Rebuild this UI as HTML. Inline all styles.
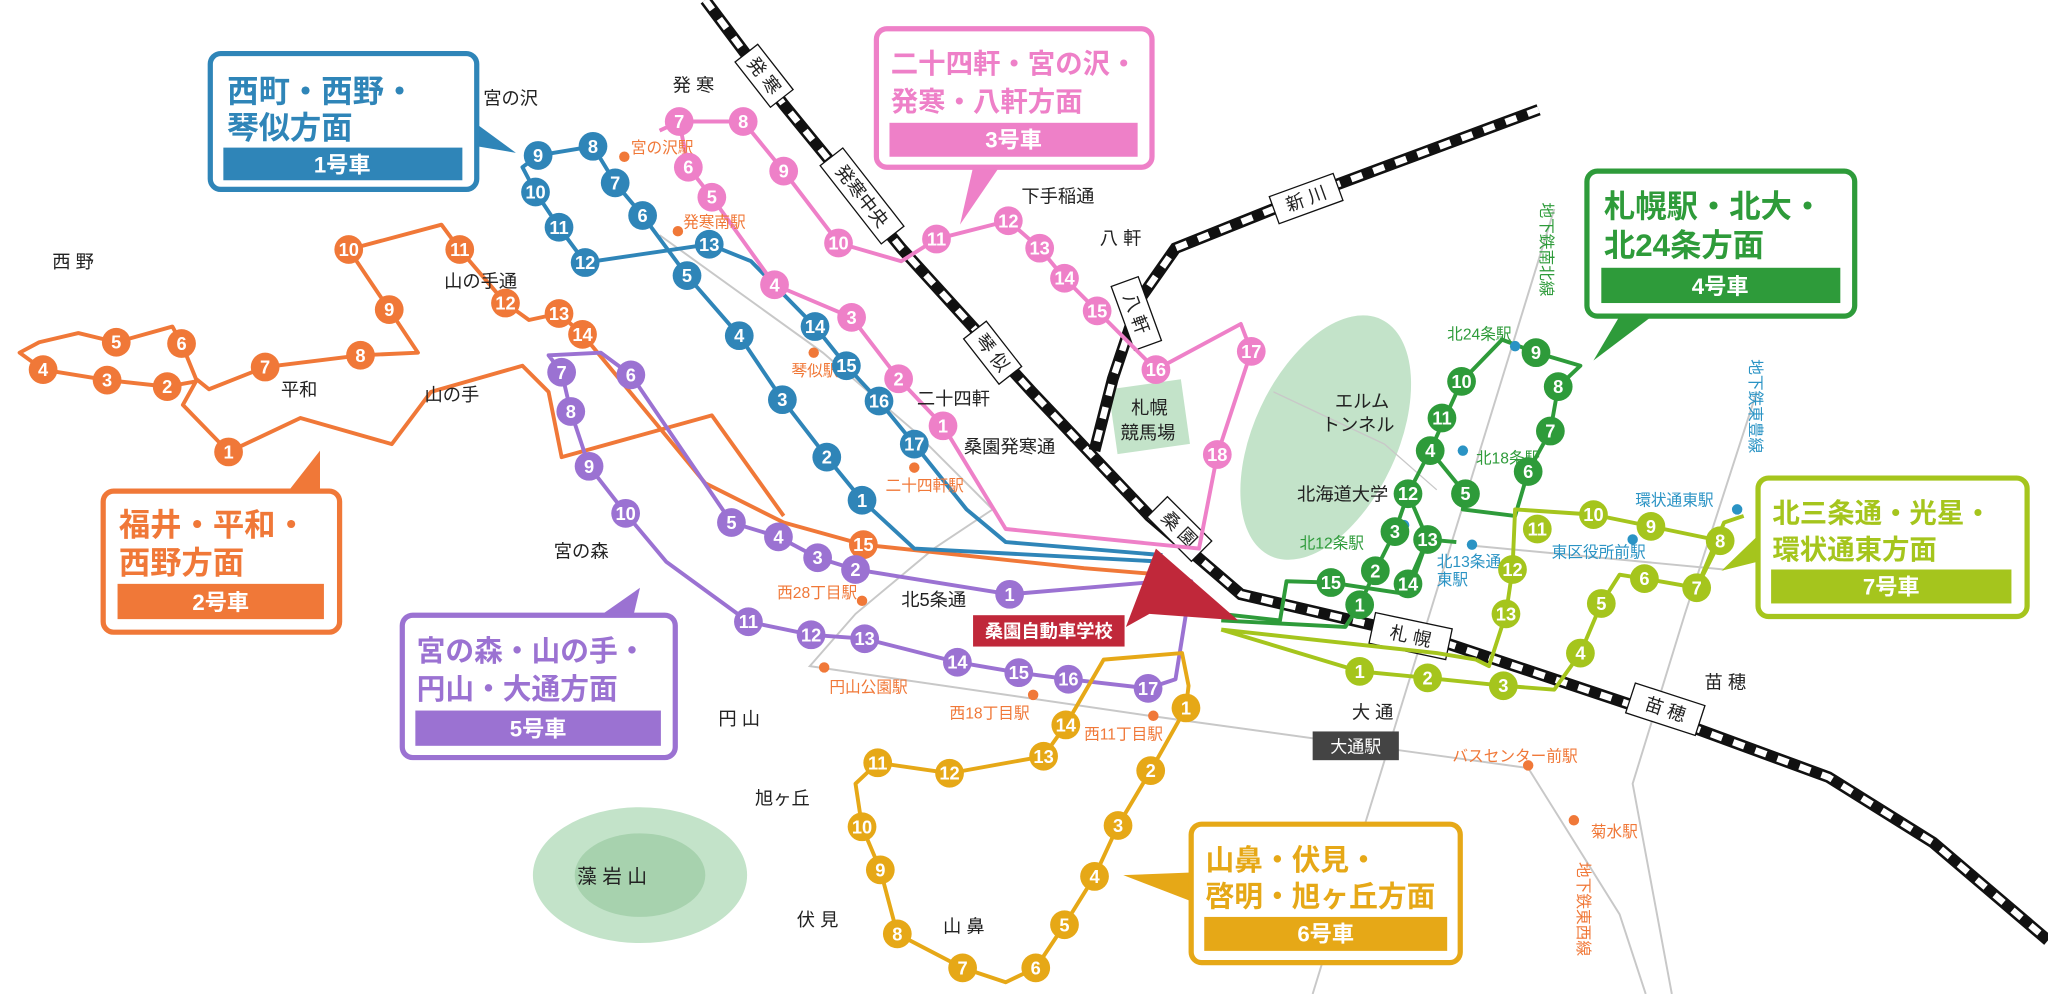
<!DOCTYPE html>
<html><head><meta charset="utf-8"><style>
html,body{margin:0;padding:0;background:#fff}
svg{display:block}
text{font-family:"Liberation Sans","Noto Sans CJK JP",sans-serif}
.s text{fill:#fff;font-weight:bold;font-size:14px;text-anchor:middle;dominant-baseline:central}
.pl{font-size:14px;fill:#222}
.b circle{fill:#2f85b8}.o circle{fill:#f07838}.p circle{fill:#ee80c8}.u circle{fill:#9b72d2}.y circle{fill:#e6a817}.g circle{fill:#2e9b3a}.l circle{fill:#a5c51d}
.r{fill:none;stroke-width:3;stroke-linejoin:round}
.st{font-size:12px}
</style></head><body>
<svg width="2048" height="994" viewBox="0 0 1568 761" xmlns="http://www.w3.org/2000/svg">
<ellipse cx="1015" cy="335" rx="55" ry="100" transform="rotate(25 1015 335)" fill="#c3e3c9"/>
<rect x="852" y="294" width="56" height="50" fill="#c3e3c9" transform="rotate(-8 880 320)"/>
<ellipse cx="490" cy="670" rx="82" ry="52" fill="#c3e3c9"/>
<ellipse cx="490" cy="670" rx="50" ry="32" fill="#a7d2ae"/>
<g stroke="#c8c8c8" stroke-width="1.5" fill="none">
<path d="M1190 160 L1005 761"/>
<path d="M1345 300 L1290 470 L1250 600 L1280 761"/>
<path d="M505 180 L630 270 L700 330 L760 390 L715 420 L655 470 L620 510 L880 548 L1170 588 L1240 700 L1260 761"/>
<path d="M1130 418 L1320 436"/>
<path d="M975 300 L1060 340 L1100 375" stroke-width="1"/>
</g>
<g fill="none">
<path d="M540 0 L600 80 L690 190 L790 300 L880 395 L950 455 L1100 490 L1250 540 L1400 595 L1480 645 L1568 720" stroke="#111" stroke-width="9"/>
<path d="M540 0 L600 80 L690 190 L790 300 L880 395 L950 455 L1100 490 L1250 540 L1400 595 L1480 645 L1568 720" stroke="#fff" stroke-width="5" stroke-dasharray="9 9"/>
<path d="M1178 84 L1000 150 L900 190 L872 230 L852 290 L838 345" stroke="#111" stroke-width="9"/>
<path d="M1178 84 L1000 150 L900 190 L872 230 L852 290 L838 345" stroke="#fff" stroke-width="5" stroke-dasharray="9 9"/>
</g>
<g font-size="14" fill="#222" text-anchor="middle" dominant-baseline="central">
<g transform="translate(585,58) rotate(52)"><rect x="-22" y="-11" width="44" height="22" fill="#fff" stroke="#111"/><text>発 寒</text></g>
<g transform="translate(660,150) rotate(52)"><rect x="-38" y="-11" width="76" height="22" fill="#fff" stroke="#111"/><text>発寒中央</text></g>
<g transform="translate(760,270) rotate(52)"><rect x="-22" y="-11" width="44" height="22" fill="#fff" stroke="#111"/><text>琴 似</text></g>
<g transform="translate(903,405) rotate(45)"><rect x="-24" y="-11" width="48" height="22" fill="#fff" stroke="#111"/><text>桑 園</text></g>
<g transform="translate(1080,487) rotate(12)"><rect x="-30" y="-12" width="60" height="24" fill="#fff" stroke="#111"/><text>札 幌</text></g>
<g transform="translate(1275,543) rotate(18)"><rect x="-28" y="-12" width="56" height="24" fill="#fff" stroke="#111"/><text>苗 穂</text></g>
<g transform="translate(1000,152) rotate(-20)"><rect x="-26" y="-11" width="52" height="22" fill="#fff" stroke="#111"/><text>新 川</text></g>
<g transform="translate(870,240) rotate(70)"><rect x="-26" y="-11" width="52" height="22" fill="#fff" stroke="#111"/><text>八 軒</text></g>
</g>
<g class="r">
<path stroke="#f07838" d="M446 256 L540 370 L600 400 L661 417 L830 435 L890 440 M446 256 L428 240 L405 245 L387 232 L352 191 L338 172 L267 191 L298 237 L320 270 L276 272 L203 281 L160 298 L150 290 L139 263 L132 250 L89 262 L60 255 L30 262 L15 270 L33 283 L82 291 L128 296 L150 292 L140 310 L175 346 L230 320 L300 340 L330 300 L400 280 L420 300 L430 350 L545 318 L600 395"/>
<path stroke="#2f85b8" d="M412 119 L454 112 L471 140 L492 165 L526 211 L566 257 L599 306 L633 350 L660 383 L700 420 L890 430 M412 119 L400 128 L410 147 L428 174 L448 201 L543 187 L575 200 L624 250 L648 280 L673 307 L700 340 L740 390 L770 415 L890 425"/>
<path stroke="#ee80c8" d="M520 93 L569 93 L600 131 L642 186 L690 200 L717 183 L772 169 L796 190 L815 213 L840 238 L885 283 L950 248 L958 269 L932 348 L918 420 L770 405 L722 326 L688 290 L652 243 L593 218 L545 151 L527 128 L520 93 L505 100"/>
<path stroke="#9b72d2" d="M879 527 L900 520 L912 445 L890 445 L773 455 L655 436 L626 427 L596 411 L560 400 L483 287 L460 270 L420 272 L430 285 L437 315 L451 357 L479 393 L510 430 L573 476 L621 486 L662 489 L733 507 L780 515 L818 520 L879 527"/>
<path stroke="#e6a817" d="M816 555 L845 505 L905 500 L910 525 L908 542 L881 590 L856 632 L838 671 L815 708 L793 741 L770 752 L737 741 L687 715 L674 666 L660 633 L655 600 L672 584 L727 592 L799 579 L816 555"/>
<path stroke="#2e9b3a" d="M935 470 L980 475 L985 445 L1019 446 L1078 455 L1093 413 L1078 378 L1095 345 L1119 292 L1150 260 L1176 270 L1210 280 L1193 296 L1187 330 L1170 361 L1160 395 L1120 390 L1122 378 L1095 345 M1078 447 L1093 413 L1115 415 M1041 463 L1053 437 L1068 407 L1078 378 M1041 463 L1030 480 L935 475"/>
<path stroke="#a5c51d" d="M935 482 L1041 514 L1093 519 L1151 525 L1190 528 L1210 500 L1226 462 L1240 440 L1259 443 L1299 450 L1317 414 L1264 403 L1220 394 L1160 390 L1158 436 L1153 470 L1140 510 L1130 505 M935 482 L1100 500 L1130 505 M1299 450 L1320 400 L1335 395"/>
</g>
<g fill="#f07838"><circle cx="478" cy="120" r="4"/><circle cx="519" cy="177" r="4"/><circle cx="623" cy="270" r="4"/><circle cx="700" cy="358" r="4"/><circle cx="660" cy="460" r="4"/><circle cx="631" cy="511" r="4"/><circle cx="791" cy="532" r="4"/><circle cx="883" cy="548" r="4"/><circle cx="1170" cy="586" r="4"/><circle cx="1205" cy="628" r="4"/></g>
<g fill="#2a93c4"><circle cx="1160" cy="265" r="4"/><circle cx="1120" cy="345" r="4"/><circle cx="1075" cy="402" r="4"/><circle cx="1127" cy="417" r="4"/><circle cx="1250" cy="413" r="4"/><circle cx="1330" cy="390" r="4"/></g>
<g class="st" fill="#f07838">
<text x="483" y="117">宮の沢駅</text><text x="523" y="174">発寒南駅</text><text x="606" y="288">琴似駅</text><text x="678" y="376">二十四軒駅</text><text x="595" y="458">西28丁目駅</text><text x="635" y="530">円山公園駅</text><text x="727" y="550">西18丁目駅</text><text x="830" y="566">西11丁目駅</text><text x="1112" y="583">バスセンター前駅</text><text x="1218" y="641">菊水駅</text>
</g>
<g class="st" fill="#2e9b3a"><text x="1108" y="260">北24条駅</text><text x="1130" y="355">北18条駅</text><text x="995" y="420">北12条駅</text></g>
<g class="st" fill="#2a93c4"><text x="1100" y="434">北13条通</text><text x="1100" y="448">東駅</text><text x="1188" y="427">東区役所前駅</text><text x="1252" y="387">環状通東駅</text></g>
<g class="st" fill="#2e9b3a"><text transform="translate(1180,155) rotate(90)">地下鉄南北線</text></g>
<g class="st" fill="#2a93c4"><text transform="translate(1340,275) rotate(90)">地下鉄東豊線</text></g>
<g class="st" fill="#f07838"><text transform="translate(1208,660) rotate(90)">地下鉄東西線</text></g>
<rect x="1005" y="560" width="66" height="22" fill="#444"/><text x="1038" y="576" font-size="13" fill="#fff" text-anchor="middle">大通駅</text>
<g class="pl">
<text x="370" y="80">宮の沢</text><text x="515" y="70">発 寒</text><text x="40" y="205">西 野</text><text x="340" y="220">山の手通</text><text x="215" y="303">平和</text><text x="325" y="307">山の手</text><text x="702" y="310">二十四軒</text><text x="738" y="347">桑園発寒通</text><text x="782" y="155">下手稲通</text><text x="842" y="187">八 軒</text><text x="424" y="427">宮の森</text><text x="690" y="464">北5条通</text><text x="550" y="555">円 山</text><text x="578" y="616">旭ヶ丘</text><text x="610" y="709">伏 見</text><text x="722" y="714">山 鼻</text><text x="1035" y="550">大 通</text><text x="1305" y="527">苗 穂</text>
<text x="1022" y="312">エルム</text><text x="1012" y="330">トンネル</text><text x="993" y="383">北海道大学</text><text x="866" y="317">札幌</text><text x="858" y="336">競馬場</text>
<text x="442" y="676" font-size="15">藻 岩 山</text>
</g>
<path d="M885 420 L948 475 L880 470 L862 480 Z" fill="#c0283a"/>
<rect x="745" y="471" width="116" height="24" fill="#c0283a"/><text x="803" y="488" font-size="14" font-weight="bold" fill="#fff" text-anchor="middle">桑園自動車学校</text>
<g class="s b">
<circle cx="660" cy="383" r="11"/><text x="660" y="383">1</text><circle cx="633" cy="350" r="11"/><text x="633" y="350">2</text><circle cx="599" cy="306" r="11"/><text x="599" y="306">3</text><circle cx="566" cy="257" r="11"/><text x="566" y="257">4</text><circle cx="526" cy="211" r="11"/><text x="526" y="211">5</text><circle cx="492" cy="165" r="11"/><text x="492" y="165">6</text><circle cx="471" cy="140" r="11"/><text x="471" y="140">7</text><circle cx="454" cy="112" r="11"/><text x="454" y="112">8</text><circle cx="412" cy="119" r="11"/><text x="412" y="119">9</text><circle cx="410" cy="147" r="11"/><text x="410" y="147">10</text><circle cx="428" cy="174" r="11"/><text x="428" y="174">11</text><circle cx="448" cy="201" r="11"/><text x="448" y="201">12</text><circle cx="543" cy="187" r="11"/><text x="543" y="187">13</text><circle cx="624" cy="250" r="11"/><text x="624" y="250">14</text><circle cx="648" cy="280" r="11"/><text x="648" y="280">15</text><circle cx="673" cy="307" r="11"/><text x="673" y="307">16</text><circle cx="700" cy="340" r="11"/><text x="700" y="340">17</text>
</g>
<g class="s o">
<circle cx="175" cy="346" r="11"/><text x="175" y="346">1</text><circle cx="128" cy="296" r="11"/><text x="128" y="296">2</text><circle cx="82" cy="291" r="11"/><text x="82" y="291">3</text><circle cx="33" cy="283" r="11"/><text x="33" y="283">4</text><circle cx="89" cy="262" r="11"/><text x="89" y="262">5</text><circle cx="139" cy="263" r="11"/><text x="139" y="263">6</text><circle cx="203" cy="281" r="11"/><text x="203" y="281">7</text><circle cx="276" cy="272" r="11"/><text x="276" y="272">8</text><circle cx="298" cy="237" r="11"/><text x="298" y="237">9</text><circle cx="267" cy="191" r="11"/><text x="267" y="191">10</text><circle cx="352" cy="191" r="11"/><text x="352" y="191">11</text><circle cx="387" cy="232" r="11"/><text x="387" y="232">12</text><circle cx="428" cy="240" r="11"/><text x="428" y="240">13</text><circle cx="446" cy="256" r="11"/><text x="446" y="256">14</text><circle cx="661" cy="417" r="11"/><text x="661" y="417">15</text>
</g>
<g class="s p">
<circle cx="722" cy="326" r="11"/><text x="722" y="326">1</text><circle cx="688" cy="290" r="11"/><text x="688" y="290">2</text><circle cx="652" cy="243" r="11"/><text x="652" y="243">3</text><circle cx="593" cy="218" r="11"/><text x="593" y="218">4</text><circle cx="545" cy="151" r="11"/><text x="545" y="151">5</text><circle cx="527" cy="128" r="11"/><text x="527" y="128">6</text><circle cx="520" cy="93" r="11"/><text x="520" y="93">7</text><circle cx="569" cy="93" r="11"/><text x="569" y="93">8</text><circle cx="600" cy="131" r="11"/><text x="600" y="131">9</text><circle cx="642" cy="186" r="11"/><text x="642" y="186">10</text><circle cx="717" cy="183" r="11"/><text x="717" y="183">11</text><circle cx="772" cy="169" r="11"/><text x="772" y="169">12</text><circle cx="796" cy="190" r="11"/><text x="796" y="190">13</text><circle cx="815" cy="213" r="11"/><text x="815" y="213">14</text><circle cx="840" cy="238" r="11"/><text x="840" y="238">15</text><circle cx="885" cy="283" r="11"/><text x="885" y="283">16</text><circle cx="958" cy="269" r="11"/><text x="958" y="269">17</text><circle cx="932" cy="348" r="11"/><text x="932" y="348">18</text>
</g>
<g class="s u">
<circle cx="773" cy="455" r="11"/><text x="773" y="455">1</text><circle cx="655" cy="436" r="11"/><text x="655" y="436">2</text><circle cx="626" cy="427" r="11"/><text x="626" y="427">3</text><circle cx="596" cy="411" r="11"/><text x="596" y="411">4</text><circle cx="560" cy="400" r="11"/><text x="560" y="400">5</text><circle cx="483" cy="287" r="11"/><text x="483" y="287">6</text><circle cx="430" cy="285" r="11"/><text x="430" y="285">7</text><circle cx="437" cy="315" r="11"/><text x="437" y="315">8</text><circle cx="451" cy="357" r="11"/><text x="451" y="357">9</text><circle cx="479" cy="393" r="11"/><text x="479" y="393">10</text><circle cx="573" cy="476" r="11"/><text x="573" y="476">11</text><circle cx="621" cy="486" r="11"/><text x="621" y="486">12</text><circle cx="662" cy="489" r="11"/><text x="662" y="489">13</text><circle cx="733" cy="507" r="11"/><text x="733" y="507">14</text><circle cx="780" cy="515" r="11"/><text x="780" y="515">15</text><circle cx="818" cy="520" r="11"/><text x="818" y="520">16</text><circle cx="879" cy="527" r="11"/><text x="879" y="527">17</text>
</g>
<g class="s y">
<circle cx="908" cy="542" r="11"/><text x="908" y="542">1</text><circle cx="881" cy="590" r="11"/><text x="881" y="590">2</text><circle cx="856" cy="632" r="11"/><text x="856" y="632">3</text><circle cx="838" cy="671" r="11"/><text x="838" y="671">4</text><circle cx="815" cy="708" r="11"/><text x="815" y="708">5</text><circle cx="793" cy="741" r="11"/><text x="793" y="741">6</text><circle cx="737" cy="741" r="11"/><text x="737" y="741">7</text><circle cx="687" cy="715" r="11"/><text x="687" y="715">8</text><circle cx="674" cy="666" r="11"/><text x="674" y="666">9</text><circle cx="660" cy="633" r="11"/><text x="660" y="633">10</text><circle cx="672" cy="584" r="11"/><text x="672" y="584">11</text><circle cx="727" cy="592" r="11"/><text x="727" y="592">12</text><circle cx="799" cy="579" r="11"/><text x="799" y="579">13</text><circle cx="816" cy="555" r="11"/><text x="816" y="555">14</text>
</g>
<g class="s g">
<circle cx="1041" cy="463" r="11"/><text x="1041" y="463">1</text><circle cx="1053" cy="437" r="11"/><text x="1053" y="437">2</text><circle cx="1068" cy="407" r="11"/><text x="1068" y="407">3</text><circle cx="1095" cy="345" r="11"/><text x="1095" y="345">4</text><circle cx="1122" cy="378" r="11"/><text x="1122" y="378">5</text><circle cx="1170" cy="361" r="11"/><text x="1170" y="361">6</text><circle cx="1187" cy="330" r="11"/><text x="1187" y="330">7</text><circle cx="1193" cy="296" r="11"/><text x="1193" y="296">8</text><circle cx="1176" cy="270" r="11"/><text x="1176" y="270">9</text><circle cx="1119" cy="292" r="11"/><text x="1119" y="292">10</text><circle cx="1104" cy="320" r="11"/><text x="1104" y="320">11</text><circle cx="1078" cy="378" r="11"/><text x="1078" y="378">12</text><circle cx="1093" cy="413" r="11"/><text x="1093" y="413">13</text><circle cx="1078" cy="447" r="11"/><text x="1078" y="447">14</text><circle cx="1019" cy="446" r="11"/><text x="1019" y="446">15</text>
</g>
<g class="s l">
<circle cx="1041" cy="514" r="11"/><text x="1041" y="514">1</text><circle cx="1093" cy="519" r="11"/><text x="1093" y="519">2</text><circle cx="1151" cy="525" r="11"/><text x="1151" y="525">3</text><circle cx="1210" cy="500" r="11"/><text x="1210" y="500">4</text><circle cx="1226" cy="462" r="11"/><text x="1226" y="462">5</text><circle cx="1259" cy="443" r="11"/><text x="1259" y="443">6</text><circle cx="1299" cy="450" r="11"/><text x="1299" y="450">7</text><circle cx="1317" cy="414" r="11"/><text x="1317" y="414">8</text><circle cx="1264" cy="403" r="11"/><text x="1264" y="403">9</text><circle cx="1220" cy="394" r="11"/><text x="1220" y="394">10</text><circle cx="1177" cy="405" r="11"/><text x="1177" y="405">11</text><circle cx="1158" cy="436" r="11"/><text x="1158" y="436">12</text><circle cx="1153" cy="470" r="11"/><text x="1153" y="470">13</text>
</g>
<g font-weight="bold" font-size="24">
<path d="M365 95 L395 117 L365 112" fill="#2f85b8"/>
<rect x="161" y="41" width="204" height="104" rx="8" fill="#fff" stroke="#2f85b8" stroke-width="4"/>
<text x="174" y="78" fill="#2f85b8">西町・西野・</text><text x="174" y="106" fill="#2f85b8">琴似方面</text>
<rect x="171" y="113" width="183" height="25" fill="#2f85b8"/><text x="262" y="132" fill="#fff" font-size="17" text-anchor="middle">1号車</text>

<path d="M745 128 L735 172 L765 128" fill="#ee80c8"/>
<rect x="671" y="22" width="211" height="106" rx="8" fill="#fff" stroke="#ee80c8" stroke-width="4"/>
<text x="682" y="56" fill="#ee80c8" font-size="21">二十四軒・宮の沢・</text><text x="682" y="85" fill="#ee80c8" font-size="21">発寒・八軒方面</text>
<rect x="681" y="94" width="190" height="26" fill="#ee80c8"/><text x="776" y="113" fill="#fff" font-size="17" text-anchor="middle">3号車</text>

<path d="M1240 242 L1220 276 L1265 242" fill="#2e9b3a"/>
<rect x="1215" y="131" width="205" height="111" rx="8" fill="#fff" stroke="#2e9b3a" stroke-width="4"/>
<text x="1228" y="166" fill="#2e9b3a">札幌駅・北大・</text><text x="1228" y="196" fill="#2e9b3a">北24条方面</text>
<rect x="1226" y="205" width="183" height="27" fill="#2e9b3a"/><text x="1317" y="225" fill="#fff" font-size="17" text-anchor="middle">4号車</text>

<path d="M220 377 L245 345 L245 377" fill="#f07838"/>
<rect x="79" y="376" width="181" height="108" rx="8" fill="#fff" stroke="#f07838" stroke-width="4"/>
<text x="91" y="410" fill="#f07838">福井・平和・</text><text x="91" y="439" fill="#f07838">西野方面</text>
<rect x="90" y="447" width="158" height="27" fill="#f07838"/><text x="169" y="467" fill="#fff" font-size="17" text-anchor="middle">2号車</text>

<path d="M460 471 L490 450 L485 471" fill="#9b72d2"/>
<rect x="308" y="471" width="209" height="109" rx="8" fill="#fff" stroke="#9b72d2" stroke-width="4"/>
<text x="319" y="506" fill="#9b72d2" font-size="22">宮の森・山の手・</text><text x="319" y="535" fill="#9b72d2" font-size="22">円山・大通方面</text>
<rect x="318" y="544" width="188" height="27" fill="#9b72d2"/><text x="412" y="564" fill="#fff" font-size="17" text-anchor="middle">5号車</text>

<path d="M1346 410 L1318 437 L1346 430" fill="#a5c51d"/>
<rect x="1346" y="366" width="206" height="106" rx="8" fill="#fff" stroke="#a5c51d" stroke-width="4"/>
<text x="1357" y="400" fill="#a5c51d" font-size="21">北三条通・光星・</text><text x="1357" y="428" fill="#a5c51d" font-size="21">環状通東方面</text>
<rect x="1356" y="436" width="184" height="26" fill="#a5c51d"/><text x="1448" y="455" fill="#fff" font-size="17" text-anchor="middle">7号車</text>

<path d="M912 668 L860 670 L912 690" fill="#e6a817"/>
<rect x="912" y="631" width="206" height="106" rx="8" fill="#fff" stroke="#e6a817" stroke-width="4"/>
<text x="923" y="666" fill="#e6a817" font-size="22">山鼻・伏見・</text><text x="923" y="694" fill="#e6a817" font-size="22">啓明・旭ヶ丘方面</text>
<rect x="922" y="702" width="186" height="26" fill="#e6a817"/><text x="1015" y="721" fill="#fff" font-size="17" text-anchor="middle">6号車</text>
</g>
</svg>
</body></html>
